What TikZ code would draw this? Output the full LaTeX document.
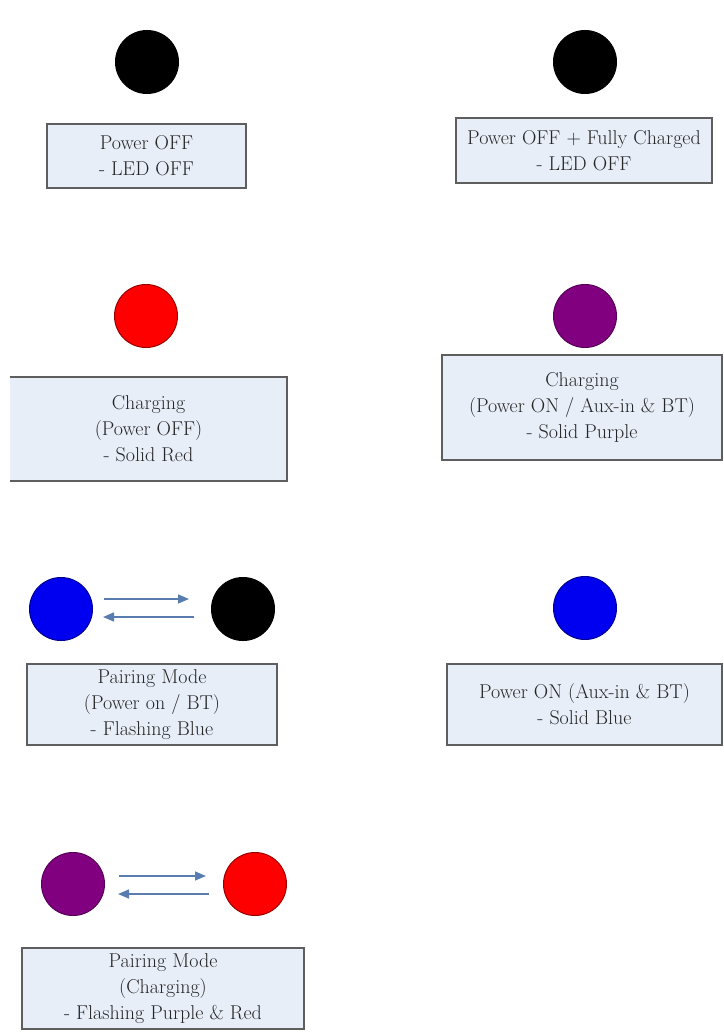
\documentclass[tikz,border=0pt]{standalone}
\usetikzlibrary{arrows.meta,calc}
\definecolor{boxfill}{HTML}{E8EEF8}
\definecolor{boxline}{HTML}{5E5E5E}
\definecolor{txt}{HTML}{252525}
\definecolor{arrcol}{HTML}{5A7DB0}
\definecolor{ledred}{HTML}{FF0000}
\definecolor{ledpurple}{HTML}{800080}
\definecolor{ledblue}{HTML}{0000F0}
\tikzset{
  led/.style={circle, minimum size=63pt, inner sep=0pt, line width=1pt},
  ledblack/.style={led, fill=black, draw=black},
  ledr/.style={led, fill=ledred, draw=ledred!60!black},
  ledp/.style={led, fill=ledpurple, draw=ledpurple!70!black},
  ledb/.style={led, fill=ledblue, draw=ledblue!60!black},
  boxtext/.style={align=center, text=txt, font={\rmfamily\fontsize{20}{26}\selectfont}},
  infobox/.style={rectangle, fill=boxfill, draw=boxline, line width=2pt, inner sep=0pt, boxtext},
  arr/.style={draw=arrcol, line width=1.4pt, -{Triangle[length=11pt,width=9pt]}}
}
\begin{document}
\begin{tikzpicture}[x=1pt,y=-1pt]
\useasboundingbox (0,0) rectangle (723,1032);
% row 1
\node[ledblack] (c1) at (147,62) {};
\node[infobox, minimum width=199pt, minimum height=64pt] (b1) at (146.5,156) {Power OFF\\- LED OFF};
\node[ledblack] (c2) at (585,62) {};
\node[infobox, minimum width=256pt, minimum height=65pt] (b2) at (584,150.5) {Power OFF + Fully Charged\\- LED OFF};
% row 2
\node[ledr] (c3) at (146,316) {};
\node[rectangle, fill=boxfill, inner sep=0pt, minimum width=277pt, minimum height=104pt, boxtext] (b3) at (148.5,429) {Charging\\(Power OFF)\\- Solid Red};
\draw[boxline, line width=2pt] (b3.north west) -- (b3.north east) -- (b3.south east) -- (b3.south west);
\node[ledp] (c4) at (585,316) {};
\node[infobox, minimum width=280pt, minimum height=105pt] (b4) at (582,407.5) {Charging\\(Power ON / Aux-in \& BT)\\- Solid Purple};
% row 3
\node[ledb] (c5) at (61,609) {};
\node[ledblack] (c6) at (243,609) {};
\draw[arr] ([shift={(11,-10)}]c5.east) -- ([shift={(-22,-10)}]c6.west);
\draw[arr] ([shift={(-17,8)}]c6.west) -- ([shift={(10,8)}]c5.east);
\node[infobox, minimum width=250pt, minimum height=81pt] (b5) at (152,704.5) {Pairing Mode\\(Power on / BT)\\- Flashing Blue};
\node[ledb] (c7) at (585,608) {};
\node[infobox, minimum width=275pt, minimum height=81pt] (b6) at (584.5,704.5) {Power ON (Aux-in \& BT)\\- Solid Blue};
% row 4
\node[ledp] (c8) at (73,884) {};
\node[ledr] (c9) at (255,884) {};
\draw[arr] ([shift={(14,-8)}]c8.east) -- ([shift={(-17,-8)}]c9.west);
\draw[arr] ([shift={(-14,10)}]c9.west) -- ([shift={(13,10)}]c8.east);
\node[infobox, minimum width=282pt, minimum height=81pt] (b7) at (163,988.5) {Pairing Mode\\(Charging)\\- Flashing Purple \& Red};
\end{tikzpicture}
\end{document}
